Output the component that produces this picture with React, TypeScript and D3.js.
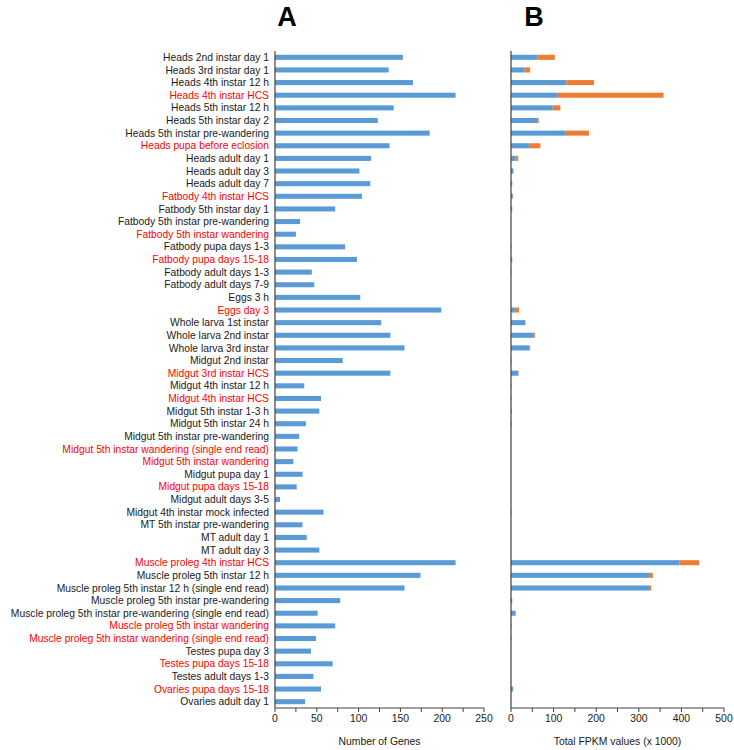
import React, { useEffect, useRef } from "react";
import * as d3 from "d3";

const samples = [
  "Heads 2nd instar day 1",
  "Heads 3rd instar day 1",
  "Heads 4th instar 12 h",
  "Heads 4th instar HCS",
  "Heads 5th instar 12 h",
  "Heads 5th instar day 2",
  "Heads 5th instar pre-wandering",
  "Heads pupa before eclosion",
  "Heads adult day 1",
  "Heads adult day 3",
  "Heads adult day 7",
  "Fatbody 4th instar HCS",
  "Fatbody 5th instar day 1",
  "Fatbody 5th instar pre-wandering",
  "Fatbody 5th instar wandering",
  "Fatbody pupa days 1-3",
  "Fatbody pupa days 15-18",
  "Fatbody adult days 1-3",
  "Fatbody adult days 7-9",
  "Eggs 3 h",
  "Eggs day 3",
  "Whole larva 1st instar",
  "Whole larva 2nd instar",
  "Whole larva 3rd instar",
  "Midgut 2nd instar",
  "Midgut 3rd instar HCS",
  "Midgut 4th instar 12 h",
  "Midgut 4th instar HCS",
  "Midgut 5th instar 1-3 h",
  "Midgut 5th instar 24 h",
  "Midgut 5th instar pre-wandering",
  "Midgut 5th instar wandering (single end read)",
  "Midgut 5th instar wandering",
  "Midgut pupa day 1",
  "Midgut pupa days 15-18",
  "Midgut adult days 3-5",
  "Midgut 4th instar mock infected",
  "MT 5th instar pre-wandering",
  "MT adult day 1",
  "MT adult day 3",
  "Muscle proleg 4th instar HCS",
  "Muscle proleg 5th instar 12 h",
  "Muscle proleg 5th instar 12 h (single end read)",
  "Muscle proleg 5th instar pre-wandering",
  "Muscle proleg 5th instar pre-wandering (single end read)",
  "Muscle proleg 5th instar wandering",
  "Muscle proleg 5th instar wandering (single end read)",
  "Testes pupa day 3",
  "Testes pupa days 15-18",
  "Testes adult days 1-3",
  "Ovaries pupa days 15-18",
  "Ovaries adult day 1",
];

// samples printed in red
const redSamples = [
  "Heads 4th instar HCS",
  "Heads pupa before eclosion",
  "Fatbody 4th instar HCS",
  "Fatbody 5th instar wandering",
  "Fatbody pupa days 15-18",
  "Eggs day 3",
  "Midgut 3rd instar HCS",
  "Midgut 4th instar HCS",
  "Midgut 5th instar wandering (single end read)",
  "Midgut 5th instar wandering",
  "Midgut pupa days 15-18",
  "Muscle proleg 4th instar HCS",
  "Muscle proleg 5th instar wandering",
  "Muscle proleg 5th instar wandering (single end read)",
  "Testes pupa days 15-18",
  "Ovaries pupa days 15-18",
];

// panel A: number of genes
const geneCounts = [
  153, 136, 165, 216, 142, 123, 185, 137, 115, 101, 114, 104, 72, 30, 25, 84,
  98, 44, 47, 102, 199, 127, 138, 155, 81, 138, 35, 55, 53, 37, 29, 27, 22, 33,
  26, 6, 58, 33, 38, 53, 216, 174, 155, 78, 51, 72, 49, 43, 69, 46, 55, 36,
];

// panel B: total FPKM (x 1000), blue part + orange part
const fpkmBlue = [
  62, 32, 130, 110, 98, 63, 127, 42, 11, 5, 2, 4, 3, 0, 0, 0, 0, 0, 0, 0, 9, 33,
  52, 44, 0, 17, 0, 0, 1, 1, 0, 0, 0, 0, 0, 0, 0, 0, 0, 0, 395, 326, 326, 3,
  11, 1, 0, 0, 0, 0, 5, 0,
];
const fpkmOrange = [
  41, 13, 65, 248, 18, 2, 56, 27, 6, 1, 1, 1, 0, 0, 0, 1, 3, 1, 0, 0, 10, 1, 4,
  1, 1, 1, 1, 1, 1, 1, 0, 0, 0, 0, 0, 0, 1, 0, 0, 0, 47, 7, 3, 0, 0, 0, 1, 0,
  0, 0, 0, 0,
];

const genesTicks = [0, 50, 100, 150, 200, 250];
const genesMinorTicks = [0, 25, 50, 75, 100, 125, 150, 175, 200, 225, 250];
const fpkmTicks = [0, 100, 200, 300, 400, 500];
const fpkmMinorTicks = [0, 50, 100, 150, 200, 250, 300, 350, 400, 450, 500];

const BLUE = "#5b9bd5";
const ORANGE = "#ed7d31";
const RED = "#ff0000";
const FONT = "'Liberation Sans', Arial, sans-serif";

export default function App() {
  const ref = useRef<SVGSVGElement | null>(null);

  useEffect(() => {
    const width = 734;
    const height = 750;
    const svg = d3.select(ref.current);
    svg.selectAll("*").remove();
    svg.attr("width", width).attr("height", height);

    const top = 51;
    const bottom = 708;

    const y = d3
      .scaleBand()
      .domain(samples)
      .range([top, bottom])
      .paddingInner(0.6)
      .paddingOuter(0.3);

    const xA = d3.scaleLinear().domain([0, 250]).range([275, 484]);
    const xB = d3.scaleLinear().domain([0, 500]).range([511, 724]);

    const rows = samples.map((s, i) => ({
      name: s,
      genes: geneCounts[i],
      blue: fpkmBlue[i],
      orange: fpkmOrange[i],
    }));

    // sample labels
    svg
      .append("g")
      .selectAll("text")
      .data(rows)
      .enter()
      .append("text")
      .attr("x", 269)
      .attr("y", (d) => y(d.name)! + y.bandwidth() / 2)
      .attr("dy", "0.35em")
      .attr("text-anchor", "end")
      .attr("font-family", FONT)
      .attr("font-size", 10.3)
      .attr("fill", (d) => (redSamples.includes(d.name) ? RED : "#1a1a1a"))
      .text((d) => d.name);

    // panel A bars
    svg
      .append("g")
      .selectAll("rect")
      .data(rows)
      .enter()
      .append("rect")
      .attr("x", xA(0))
      .attr("y", (d) => y(d.name)!)
      .attr("width", (d) => xA(d.genes) - xA(0))
      .attr("height", y.bandwidth())
      .attr("fill", BLUE);

    // panel B stacked bars
    const gB = svg.append("g");
    gB.selectAll("rect.blue")
      .data(rows)
      .enter()
      .append("rect")
      .attr("class", "blue")
      .attr("x", xB(0))
      .attr("y", (d) => y(d.name)!)
      .attr("width", (d) => xB(d.blue) - xB(0))
      .attr("height", y.bandwidth())
      .attr("fill", BLUE);
    gB.selectAll("rect.orange")
      .data(rows)
      .enter()
      .append("rect")
      .attr("class", "orange")
      .attr("x", (d) => xB(d.blue))
      .attr("y", (d) => y(d.name)!)
      .attr("width", (d) => xB(d.blue + d.orange) - xB(d.blue))
      .attr("height", y.bandwidth())
      .attr("fill", ORANGE);

    const drawAxis = (
      x: d3.ScaleLinear<number, number>,
      majors: number[],
      minors: number[],
      title: string
    ) => {
      const g = svg.append("g");
      const [x0, x1] = x.range();
      // vertical category axis
      g.append("line")
        .attr("x1", x0)
        .attr("x2", x0)
        .attr("y1", top)
        .attr("y2", bottom)
        .attr("stroke", "#404040")
        .attr("stroke-width", 1.2);
      // horizontal value axis
      g.append("line")
        .attr("x1", x0)
        .attr("x2", x1)
        .attr("y1", bottom)
        .attr("y2", bottom)
        .attr("stroke", "#404040")
        .attr("stroke-width", 1.2);
      g.selectAll("line.tick")
        .data(minors)
        .enter()
        .append("line")
        .attr("class", "tick")
        .attr("x1", (d) => x(d))
        .attr("x2", (d) => x(d))
        .attr("y1", bottom)
        .attr("y2", bottom + 4)
        .attr("stroke", "#404040");
      g.selectAll("text.tick")
        .data(majors)
        .enter()
        .append("text")
        .attr("class", "tick")
        .attr("x", (d) => x(d))
        .attr("y", bottom + 14)
        .attr("text-anchor", "middle")
        .attr("font-family", FONT)
        .attr("font-size", 10.4)
        .attr("fill", "#1a1a1a")
        .text((d) => d3.format("d")(d));
      g.append("text")
        .attr("x", (x0 + x1) / 2)
        .attr("y", 745)
        .attr("text-anchor", "middle")
        .attr("font-family", FONT)
        .attr("font-size", 10.4)
        .attr("fill", "#1a1a1a")
        .text(title);
    };

    drawAxis(xA, genesTicks, genesMinorTicks, "Number of Genes");
    drawAxis(xB, fpkmTicks, fpkmMinorTicks, "Total FPKM values (x 1000)");

    // panel letters
    svg
      .append("text")
      .attr("x", 287)
      .attr("y", 26)
      .attr("text-anchor", "middle")
      .attr("font-family", FONT)
      .attr("font-weight", "bold")
      .attr("font-size", 27)
      .text("A");
    svg
      .append("text")
      .attr("x", 534)
      .attr("y", 26)
      .attr("text-anchor", "middle")
      .attr("font-family", FONT)
      .attr("font-weight", "bold")
      .attr("font-size", 27)
      .text("B");
  }, []);

  return (
    <svg
      ref={ref}
      style={{ position: "absolute", left: 0, top: 0, background: "#fff" }}
    />
  );
}
